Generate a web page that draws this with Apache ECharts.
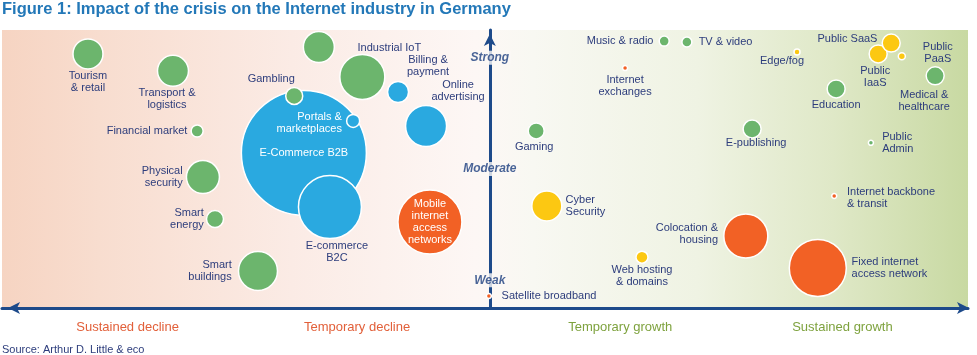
<!DOCTYPE html>
<html><head><meta charset="utf-8">
<script src="https://cdn.jsdelivr.net/npm/echarts@6/dist/echarts.min.js"></script>
<style>html,body{margin:0;padding:0;background:#fff}#c{width:977px;height:355px}</style>
</head><body><div id="c"></div>
<script>
// ---- data ----
const names = [
  'Tourism\n& retail','Transport &\nlogistics','Financial market','Physical\nsecurity','Smart\nenergy','Smart\nbuildings',
  '','Industrial IoT','Gambling','Music & radio','TV & video','Gaming','Medical &\nhealthcare','Education','E-publishing','Public\nAdmin',
  'E-Commerce B2B','E-commerce\nB2C','Billing &\npayment','Online\nadvertising','Portals &\nmarketplaces',
  'Mobile\ninternet\naccess\nnetworks','Internet\nexchanges','Internet backbone\n& transit','Colocation &\nhousing','Fixed internet\naccess network','Satellite broadband',
  'Edge/fog','Public\nIaaS','Public SaaS','Public\nPaaS','Cyber\nSecurity','Web hosting\n& domains'
];
const impact = [
  -83.2,-65.6,-60.6,-59.4,-56.9,-48.0,
  -35.4,-26.4,-40.5,36.1,40.8,9.6,92.2,71.7,54.3,78.9,
  -38.5,-33.1,-19.0,-13.2,-28.3,
  -12.4,28.0,71.3,53.0,67.9,-0.2,
  63.6,80.4,83.1,85.3,11.8,31.5
];
const strength = [
  91.4,85.3,63.7,47.1,32.0,13.3,
  93.9,83.1,76.3,96.0,95.7,63.7,83.5,78.8,64.4,59.4,
  55.8,36.3,77.7,65.5,67.3,
  30.9,86.3,40.3,25.9,14.4,4.3,
  92.1,91.4,95.3,90.6,36.7,18.3
];
const marketSize = [
  30,31,12,33,17,39,
  31,45,17,10,10,16,18,18,18,5,
  125,63,21,41,13,
  64,5,5,44,57,5,
  6,18,18,7,30,12
];
const segment = [
  'G','G','G','G','G','G',
  'G','G','G','G','G','G','G','G','G','G',
  'B','B','B','B','B',
  'O','O','O','O','O','O',
  'Y','Y','Y','Y','Y','Y'
];
const levelLabels = ['Weak','Moderate','Strong'];
const levelValues = [10,50,90];
const phaseLabels = ['Sustained decline','Temporary decline','Temporary growth','Sustained growth'];
const phaseValues = [-75,-27.5,27,73];

// ---- styling ----
const segColor = {G:'#6cb56d', B:'#2aa9e0', O:'#f26125', Y:'#fcc812'};
const navy = '#2d3d7c';
const labelLayout = {
 'Tourism\n& retail':['bottom',0],
 'Transport &\nlogistics':['bottom',0,[-6,0]],
 'Financial market':['left',3],
 'Physical\nsecurity':['left',3],
 'Smart\nenergy':['left',2],
 'Smart\nbuildings':['left',6],
 'Industrial IoT':['top',0,[27,0]],
 'Gambling':['top',2,[-23,0]],
 'Billing &\npayment':['top',3,[30,0]],
 'Online\nadvertising':['top',2,[32,0]],
 'Portals &\nmarketplaces':['left',4,[0,2],'#fff'],
 'E-Commerce B2B':['inside',0,[0,0],'#fff'],
 'E-commerce\nB2C':['bottom',1,[7,0]],
 'Mobile\ninternet\naccess\nnetworks':['inside',0,[0,0],'#fff'],
 'Music & radio':['left',5],
 'TV & video':['right',6],
 'Internet\nexchanges':['bottom',3],
 'Gaming':['bottom',1,[-2,0]],
 'Edge/fog':['bottom',-1,[-15,0]],
 'Public SaaS':['left',4,[0,-4]],
 'Public\nIaaS':['bottom',1,[-3,0]],
 'Public\nPaaS':['inside',0,[36,-3.5]],
 'Medical &\nhealthcare':['inside',0,[-11,25]],
 'Education':['bottom',0],
 'E-publishing':['inside',0,[4,14]],
 'Public\nAdmin':['right',8],
 'Internet backbone\n& transit':['right',9.5,[0,2.5]],
 'Colocation &\nhousing':['left',5,[0,-2]],
 'Fixed internet\naccess network':['right',4.5],
 'Cyber\nSecurity':['right',3],
 'Web hosting\n& domains':['bottom',0],
 'Satellite broadband':['right',9.5]
};
const font = 'Liberation Sans, Arial, sans-serif';

function buildSeries(seg){
  const data = [];
  names.forEach((n,i)=>{
    if (segment[i] !== seg) return;
    const lay = labelLayout[n];
    data.push({
      name:n, value:[impact[i], strength[i], marketSize[i]],
      label: lay ? {show:true, position:lay[0], distance:lay[1], offset:lay[2]||[0,0], color:lay[3]||navy,
                    formatter:n} : {show:false}
    });
  });
  return {
    type:'scatter', data, symbolSize:v=>v[2],
    itemStyle:{color:segColor[seg], borderColor:'#fff', borderWidth:1.5, opacity:1},
    label:{fontSize:11, lineHeight:12, fontFamily:font},
    emphasis:{disabled:true}, animation:false, z: seg==='G'?5:3
  };
}

const chart = echarts.init(document.getElementById('c'));
chart.setOption({
  animation:false,
  title:[
    {text:'Figure 1: Impact of the crisis on the Internet industry in Germany', left:2, top:1, padding:0,
     textStyle:{fontSize:16.5, fontWeight:'bold', color:'#2378b8', fontFamily:font}},
    {text:'Source: Arthur D. Little & eco', left:2, top:344, padding:0,
     textStyle:{fontSize:11, fontWeight:'normal', color:navy, fontFamily:font}}
  ],
  grid:{left:2, right:9, top:30, bottom:47, show:true, borderWidth:0,
    backgroundColor:new echarts.graphic.LinearGradient(0,0,1,0,[
      {offset:0, color:'#f6d4c2'},{offset:0.1, color:'#f8ddcf'},{offset:0.3, color:'#fbebe5'},
      {offset:0.49, color:'#fdf7f5'},{offset:0.55, color:'#f8f8f2'},{offset:0.72, color:'#eff3e3'},
      {offset:0.86, color:'#dfe8c7'},{offset:1, color:'#c8d9a2'}])},
  xAxis:{type:'value', min:-101, max:99, offset:3,
    axisLine:{show:true, symbol:['arrow','arrow'], symbolSize:[9,12], symbolOffset:[6,1],
      lineStyle:{color:'#1d4a8a', width:3}},
    axisTick:{show:false}, splitLine:{show:false},
    axisLabel:{show:true, customValues:phaseValues, margin:10, fontSize:13, fontFamily:font,
      formatter:v=>{const i=phaseValues.indexOf(v); return i<0?'':(i<2?'{d|':'{g|')+phaseLabels[i]+'}';},
      rich:{d:{color:'#e2603a', fontSize:13, fontFamily:font}, g:{color:'#7ea23e', fontSize:13, fontFamily:font}}}},
  yAxis:{type:'value', min:0, max:100,
    axisLine:{show:true, onZero:true, symbol:['none','arrow'], symbolSize:[9,12], symbolOffset:[0,-4],
      lineStyle:{color:'#1d4a8a', width:3}},
    axisTick:{show:false}, axisLabel:{show:false}, splitLine:{show:false}},
  series:[
    buildSeries('B'), buildSeries('O'), buildSeries('Y'), buildSeries('G'),
    {type:'scatter', symbolSize:0, z:6, animation:false,
     data:levelValues.map((v,i)=>({value:[0,v], name:levelLabels[i]})),
     label:{show:true, position:'inside', formatter:'{b}', fontSize:12, fontStyle:'italic', fontWeight:'bold',
       color:'#1d3f7f', fontFamily:font, backgroundColor:'#fbf8f5', padding:[1,2]}}
  ]
});
</script></body></html>
